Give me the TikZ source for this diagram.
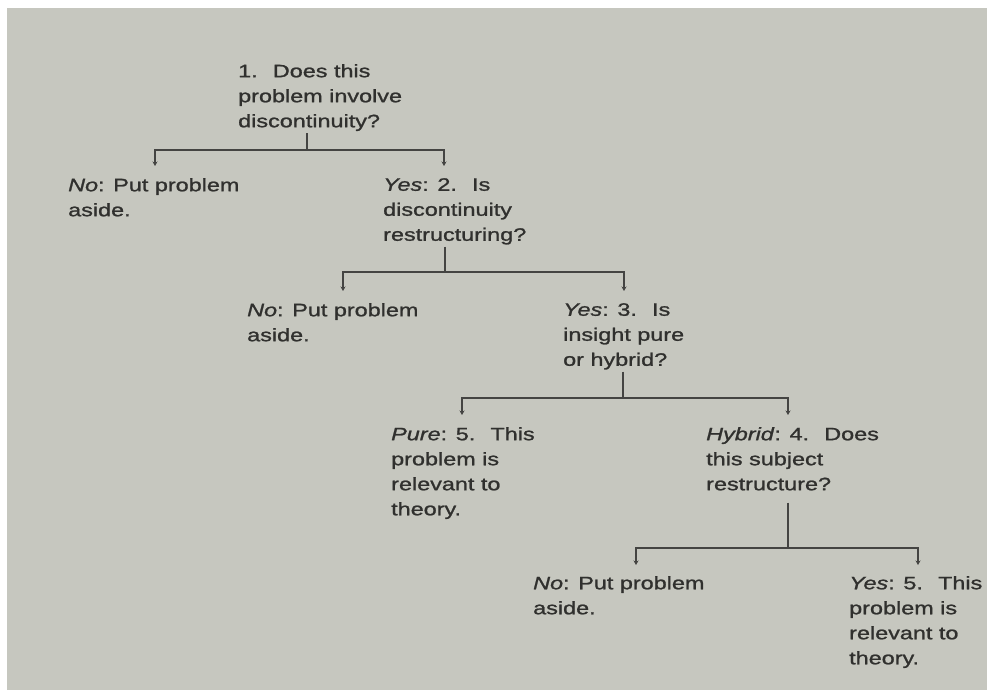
\documentclass[tikz,border=0pt]{standalone}
\usepackage{fontspec}
\setmainfont{Liberation Sans}[FakeStretch=1.3,FakeBold=1.2]
\usetikzlibrary{calc,arrows.meta}
\definecolor{paper}{RGB}{198,199,191}
\definecolor{ink}{RGB}{48,48,46}
\definecolor{rule}{RGB}{68,68,66}
\begin{document}
\begin{tikzpicture}[x=1pt,y=-1pt,
  txt/.style={anchor=north west,inner sep=0pt,align=left,text=ink,
    font=\fontsize{18}{25}\selectfont},
  link/.style={draw=rule,line width=1.6pt},
  drop/.style={link,-{Stealth[length=4.5pt,width=5pt]}}]
% page
\fill[white] (0,0) rectangle (987,693);
\fill[paper] (7,8) rectangle (987,690);
\useasboundingbox (0,0) rectangle (987,693);

% questions and outcomes
\node[txt] (q1) at (238,64) {1.~ Does this\\problem involve\\discontinuity?};
\node[txt] (no1) at (68,178) {\textit{No}: Put problem\\aside.};
\node[txt] (q2) at (383,178) {\textit{Yes}: 2.~ Is\\discontinuity\\restructuring?};
\node[txt] (no2) at (247,303) {\textit{No}: Put problem\\aside.};
\node[txt] (q3) at (563,303) {\textit{Yes}: 3.~ Is\\insight pure\\or hybrid?};
\node[txt] (pure) at (391,427) {\textit{Pure}: 5.~ This\\problem is\\relevant to\\theory.};
\node[txt] (q4) at (706,427) {\textit{Hybrid}: 4.~ Does\\this subject\\restructure?};
\node[txt] (no4) at (533,576) {\textit{No}: Put problem\\aside.};
\node[txt] (yes4) at (849,576) {\textit{Yes}: 5.~ This\\problem is\\relevant to\\theory.};

% branch points
\coordinate (j1) at (307,150);
\coordinate (j2) at (445,272);
\coordinate (j3) at (623,398);
\coordinate (j4) at (788,548);

% stems
\draw[link] (j1 |- q1.south) ++(0,2) -- (j1);
\draw[link] (j2 |- q2.south) ++(0,2) -- (j2);
\draw[link] (j3 |- q3.south) ++(0,2) -- (j3);
\draw[link] (j4 |- q4.south) ++(0,12) -- (j4);

% branches
\draw[drop] (j1) -| ($(no1.north west)+(87,-12)$);
\draw[drop] (j1) -| ($(q2.north west)+(61,-12)$);
\draw[drop] (j2) -| ($(no2.north west)+(96,-12)$);
\draw[drop] (j2) -| ($(q3.north west)+(61,-12)$);
\draw[drop] (j3) -| ($(pure.north west)+(71,-12)$);
\draw[drop] (j3) -| ($(q4.north west)+(82,-12)$);
\draw[drop] (j4) -| ($(no4.north west)+(103,-11)$);
\draw[drop] (j4) -| ($(yes4.north west)+(69,-11)$);
\end{tikzpicture}
\end{document}
